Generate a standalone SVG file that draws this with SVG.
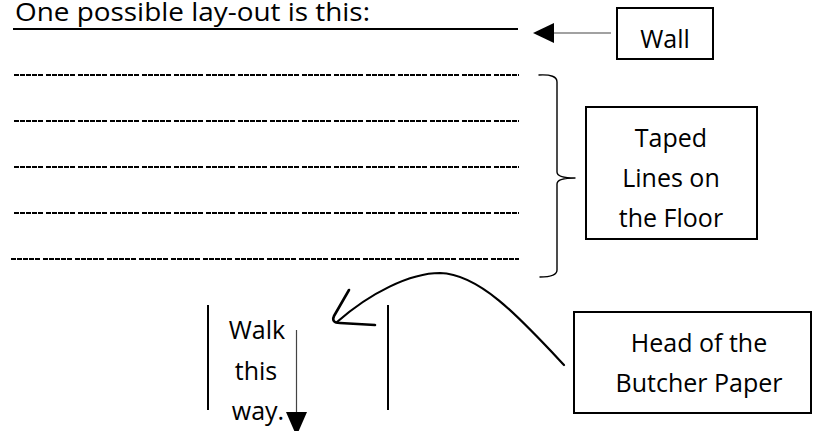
<svg xmlns="http://www.w3.org/2000/svg" width="814" height="431" viewBox="0 0 814 431">
  <style>
    .txt { font-family: "Open Sans", "Liberation Sans", sans-serif; font-size: 25px; fill: #000; }
    .mid { text-anchor: middle; }
    .box { fill: #fff; stroke: #000; stroke-width: 2; }
    .tape { stroke: #000; stroke-width: 2; stroke-dasharray: 5 1 5 1 5 1 5 1 5 3; fill: none; }
    .thin { stroke: #444; stroke-width: 1.2; fill: none; }
    .ink { stroke: #000; fill: none; stroke-linecap: round; stroke-linejoin: round; }
  </style>

  <!-- heading -->
  <text class="txt" x="15" y="20.5" font-size="26.5" textLength="355" lengthAdjust="spacingAndGlyphs">One possible lay-out is this:</text>

  <!-- wall and floor tape -->
  <g id="floor">
    <line x1="13" y1="29" x2="518" y2="29" stroke="#000" stroke-width="2"/>
    <line class="tape" x1="14" y1="75" x2="519" y2="75"/>
    <line class="tape" x1="14" y1="121" x2="519" y2="121"/>
    <line class="tape" x1="14" y1="167" x2="519" y2="167"/>
    <line class="tape" x1="14" y1="213" x2="519" y2="213"/>
    <line class="tape" x1="11" y1="259" x2="519" y2="259"/>
  </g>

  <!-- walkway -->
  <g id="walkway">
    <line x1="208" y1="305" x2="208" y2="410" stroke="#000" stroke-width="2"/>
    <line x1="388" y1="305" x2="388" y2="410" stroke="#000" stroke-width="2"/>
    <text class="txt mid" x="257" y="339">Walk</text>
    <text class="txt mid" x="256" y="380">this</text>
    <text class="txt mid" x="258" y="420">way.</text>
  </g>

  <g id="wall-label">
    <rect class="box" x="617" y="8" width="96" height="51"/>
    <text class="txt mid" x="665" y="48">Wall</text>
  </g>

  <g id="tape-label">
    <rect class="box" x="586" y="107" width="171" height="132"/>
    <text class="txt mid" x="671" y="147">Taped</text>
    <text class="txt mid" x="671" y="187">Lines on</text>
    <text class="txt mid" x="671" y="227">the Floor</text>
  </g>

  <g id="paper-label">
    <rect class="box" x="574" y="312" width="237" height="101"/>
    <text class="txt mid" x="699" y="352">Head of the</text>
    <text class="txt mid" x="699" y="392">Butcher Paper</text>
  </g>

  <!-- connectors -->
  <g id="connectors">
    <!-- wall pointer -->
    <line class="thin" x1="611" y1="33" x2="553" y2="33"/>
    <polygon points="533,33 554,23 554,43" fill="#000"/>
    <!-- brace grouping the tape lines -->
    <path class="ink" stroke-width="1.4" d="M539 75 Q557 74 557 82 L557 172 Q557 178 575 178 Q557 178 557 184 L557 270 Q557 277 540 277"/>
    <!-- walking direction -->
    <line class="thin" x1="296.5" y1="330" x2="296.5" y2="414"/>
    <polygon points="286,412 307,412 296.5,436" fill="#000"/>
    <!-- hand-drawn pointer to the paper head -->
    <path class="ink" stroke-width="2.2" d="M564 365 C520 318 480 274 440 273 C410 273 370 293 337 322"/>
    <path class="ink" stroke-width="2.6" d="M349 290 L334 316 Q331 323 340 323 L375 325"/>
  </g>
</svg>
